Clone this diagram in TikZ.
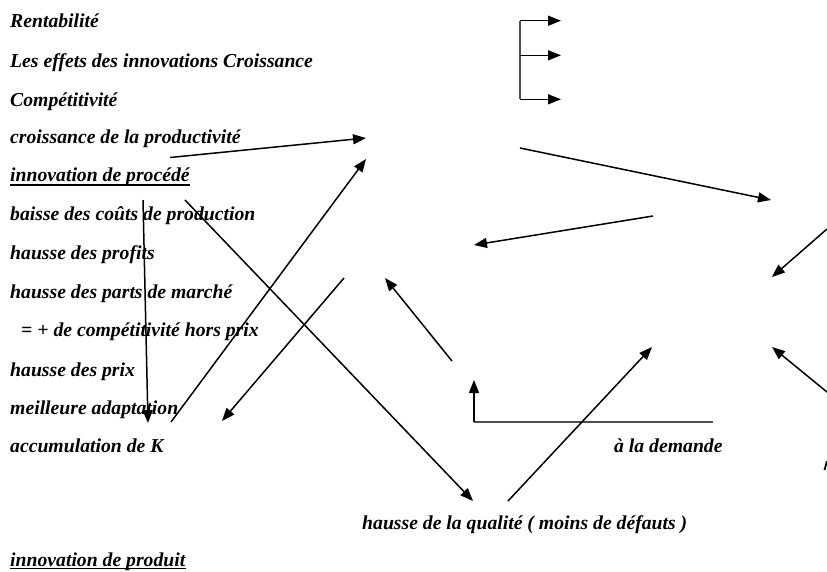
\documentclass[tikz,border=0pt]{standalone}
\usepackage{fontspec}
\setmainfont{Liberation Serif}
\usetikzlibrary{arrows.meta}
\begin{document}
\begin{tikzpicture}[x=1pt,y=-1pt,
  lbl/.style={anchor=base west, inner sep=0pt, font=\bfseries\itshape\fontsize{19.7}{23}\selectfont},
  arr/.style={line width=1.5pt, -{Triangle[length=13pt,width=10pt]}},
  grayline/.style={line width=1.1pt, draw=black!70},
  ul/.style={line width=1.5pt}]
\useasboundingbox (0,0) rectangle (827,571);
% texts
\node[lbl] (t1) at (10,27) {Rentabilité};
\node[lbl] (t2) at (10,67) {Les effets des innovations Croissance};
\node[lbl] (t3) at (10,106) {Compétitivité};
\node[lbl] (t4) at (10,143.5) {croissance de la productivité};
\node[lbl] (t5) at (10,181.5) {innovation de procédé};
\node[lbl] (t6) at (10,220) {baisse des coûts de production};
\node[lbl] (t7) at (10,259) {hausse des profits};
\node[lbl] (t8) at (10,298) {hausse des parts de marché};
\node[lbl] (t9) at (21,336) {= + de compétitivité hors prix};
\node[lbl] (t10) at (10,376) {hausse des prix};
\node[lbl] (t11) at (10,414) {meilleure adaptation};
\node[lbl] (t12) at (10,452) {accumulation de K};
\node[lbl] (t13) at (614,452) {à la demande};
\node[lbl] (t14) at (362,529) {hausse de la qualité ( moins de défauts )};
\node[lbl] (t15) at (10,566) {innovation de produit};
\draw[ul] ([yshift=-3.5pt]t5.base west) -- ([yshift=-3.5pt]t5.base east);
\draw[ul] ([yshift=-2.5pt]t15.base west) -- ([yshift=-2.5pt]t15.base east);
% glyph fragment at the right edge
\coordinate (fA) at (824.5,470);
\coordinate (fB) at (827,461);
\draw[line width=1.8pt] (fA) -- (fB);
% coordinates
\coordinate (bT) at (520,20.7);
\coordinate (bM) at (520,55.3);
\coordinate (bB) at (520,99.3);
\coordinate (bTe) at (561,20.7);
\coordinate (bMe) at (561,55.3);
\coordinate (bBe) at (561,99.3);
\coordinate (a2s) at (170,157.5);
\coordinate (a2e) at (366,138);
\coordinate (a3s) at (520,148);
\coordinate (a3e) at (771,200);
\coordinate (a4s) at (653,216);
\coordinate (a4e) at (474,245);
\coordinate (a5s) at (827,229);
\coordinate (a5e) at (772,277);
\coordinate (a6s) at (827,392);
\coordinate (a6e) at (772,347);
\coordinate (a7s) at (452,361);
\coordinate (a7e) at (385,278);
\coordinate (Lr) at (713,422);
\coordinate (Lc) at (474,422);
\coordinate (Le) at (474,380);
\coordinate (a9s) at (508,501);
\coordinate (a9e) at (652,347);
\coordinate (vS) at (143,200);
\coordinate (vE) at (148,423);
\coordinate (dS) at (185,200);
\coordinate (dE) at (473,501);
\coordinate (uS) at (171,422);
\coordinate (uE) at (366,159);
\coordinate (wS) at (344,278);
\coordinate (wE) at (222,421);
% bracket
\draw[grayline] (bT) -- (bB);
\draw[arr] (bT) -- (bTe);
\draw[arr] (bM) -- (bMe);
\draw[arr] (bB) -- (bBe);
% arrows
\draw[arr] (a2s) -- (a2e);
\draw[arr] (a3s) -- (a3e);
\draw[arr] (a4s) -- (a4e);
\draw[arr] (a5s) -- (a5e);
\draw[arr] (a6s) -- (a6e);
\draw[arr] (a7s) -- (a7e);
\draw[grayline] (Lr) -- (Lc);
\draw[arr] (Lc) -- (Le);
\draw[arr] (a9s) -- (a9e);
\draw[arr] (vS) -- (vE);
\draw[arr] (dS) -- (dE);
\draw[arr] (uS) -- (uE);
\draw[arr] (wS) -- (wE);
\end{tikzpicture}
\end{document}
